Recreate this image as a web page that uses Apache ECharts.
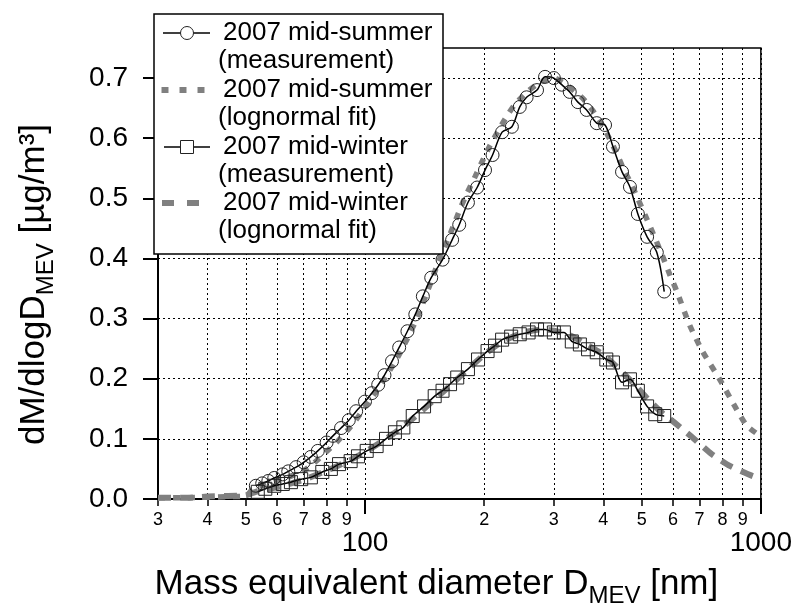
<!DOCTYPE html>
<html><head><meta charset="utf-8">
<script src="https://cdn.jsdelivr.net/npm/echarts@6/dist/echarts.min.js"></script>
<style>html,body{margin:0;padding:0;background:#fff}#c{width:795px;height:613px}</style>
</head><body><div id="c"></div>
<script>
// ---- data ----
const summerMeasD = [53,55,57,59,62,64,67,70,73,76,80,83,87,91,95,100,104,108,112,117,122,128,134,140,147,157,166,173,182,192,201,210,222,235,246,256,272,285,300,314,329,345,363,385,404,423,446,467,489,516,546,570];
const summerMeasY = [0.022,0.026,0.030,0.035,0.041,0.046,0.053,0.061,0.070,0.080,0.094,0.105,0.118,0.131,0.146,0.162,0.176,0.190,0.206,0.229,0.252,0.279,0.307,0.337,0.368,0.398,0.431,0.456,0.493,0.518,0.547,0.572,0.610,0.619,0.652,0.668,0.680,0.702,0.700,0.689,0.677,0.660,0.647,0.625,0.622,0.586,0.544,0.519,0.474,0.436,0.410,0.345];

const summerFitD = [30,35,40,45,50,52,55,60,65,70,75,80,85,90,95,100,107,114,121,128,136,147,153,164,174,180,190,198,207,226,239,258,277,300,324,354,375,395,414,433,449,472,487,510,533,566,588,612,661,713,787,860,921,1000];
const summerFitY = [0.002,0.002,0.003,0.004,0.005,0.016,0.022,0.030,0.038,0.047,0.062,0.079,0.095,0.113,0.132,0.153,0.180,0.208,0.236,0.267,0.304,0.362,0.393,0.440,0.483,0.505,0.537,0.562,0.588,0.632,0.656,0.678,0.693,0.700,0.688,0.667,0.647,0.625,0.600,0.574,0.550,0.522,0.502,0.472,0.443,0.402,0.374,0.347,0.289,0.245,0.199,0.154,0.122,0.104];

const winterMeasD = [53.6,56,59,62,65,69,73,78,82,86,92,96,101,107,113,119,125,132,141,150,157,164,171,182,193,204,213,222,234,246,259,272,285,300,318,333,349,366,385,407,423,446,467,489,516,541,570];
const winterMeasY = [0.012,0.017,0.022,0.025,0.028,0.033,0.036,0.045,0.050,0.058,0.063,0.071,0.080,0.088,0.100,0.111,0.119,0.138,0.154,0.171,0.180,0.191,0.202,0.216,0.232,0.246,0.255,0.265,0.270,0.274,0.277,0.282,0.282,0.277,0.277,0.262,0.257,0.249,0.244,0.232,0.227,0.194,0.199,0.180,0.154,0.141,0.138];

const winterFitD = [30,35,40,45,50,53,60,70,80,90,100,110,120,130,140,150,165,180,200,220,240,260,280,300,330,360,400,440,480,520,570,600,670,750,835,955,1000];
const winterFitY = [0.002,0.002,0.004,0.005,0.006,0.012,0.020,0.032,0.047,0.062,0.078,0.095,0.112,0.130,0.148,0.166,0.190,0.213,0.240,0.260,0.272,0.279,0.282,0.280,0.272,0.258,0.240,0.215,0.190,0.165,0.140,0.129,0.103,0.075,0.055,0.038,0.035];

const minorTickValues = [30,40,50,60,70,80,90,200,300,400,500,600,700,800,900];
const minorTickLabels = ['3','4','5','6','7','8','9','2','3','4','5','6','7','8','9'];
const majorTickValues = [100,1000];
const majorTickLabels = ['100','1000'];
const yTickValues = [0,0.1,0.2,0.3,0.4,0.5,0.6,0.7];
const yTickLabels = ['0.0','0.1','0.2','0.3','0.4','0.5','0.6','0.7'];

const legendNames = [['2007 mid-summer','(measurement)'],['2007 mid-summer','(lognormal fit)'],['2007 mid-winter','(measurement)'],['2007 mid-winter','(lognormal fit)']];

const zip = (a,b) => a.map((v,i)=>[v,b[i]]);
const FONT = 'Arial, "Liberation Sans", sans-serif';
const gridLine = {show:true, lineStyle:{color:'#000', width:1, type:[2,3]}};

const chart = echarts.init(document.getElementById('c'), null, {renderer:'canvas'});

const legendGraphics = [];
legendGraphics.push({type:'rect', shape:{x:154,y:14,width:289,height:240}, style:{fill:'#fff', stroke:'#000', lineWidth:1.5}, z:100});
const rowY = [33,90,147,203];
rowY.forEach((y,i)=>{
  legendGraphics.push({type:'text', x:223, y:y, scaleX:1.04, z:101, style:{text:legendNames[i][0], font:'25px '+FONT, fill:'#000', verticalAlign:'middle'}});
  legendGraphics.push({type:'text', x:218, y:y+28.5, scaleX:1.04, z:101, style:{text:legendNames[i][1], font:'25px '+FONT, fill:'#000', verticalAlign:'middle'}});
});
// sample symbols
legendGraphics.push({type:'line', z:101, shape:{x1:163,y1:33,x2:210,y2:33}, style:{stroke:'#000', lineWidth:1.5}});
legendGraphics.push({type:'circle', z:102, shape:{cx:187,cy:33,r:6.5}, style:{fill:'#fff', stroke:'#222', lineWidth:1}});
[165,183,201].forEach(x=>legendGraphics.push({type:'rect', z:101, shape:{x:x-3.5,y:87,width:7,height:6}, style:{fill:'#808080'}}));
legendGraphics.push({type:'line', z:101, shape:{x1:164,y1:147,x2:210,y2:147}, style:{stroke:'#000', lineWidth:1.5}});
legendGraphics.push({type:'rect', z:102, shape:{x:180.5,y:140.5,width:13,height:13}, style:{fill:'#fff', stroke:'#222', lineWidth:1}});
[[162,174],[187,199]].forEach(([a,b])=>legendGraphics.push({type:'line', z:101, shape:{x1:a,y1:203,x2:b,y2:203}, style:{stroke:'#808080', lineWidth:6}}));

const subRich = {
  main:{fontSize:35, fontFamily:FONT, color:'#000', lineHeight:48, verticalAlign:'middle'},
  sub:{fontSize:24, fontFamily:FONT, color:'#000', lineHeight:24, verticalAlign:'bottom'}
};

const option = {
  animation:false,
  backgroundColor:'#fff',
  grid:{left:158, right:34, top:48, bottom:113, show:true, borderColor:'#000', borderWidth:1.5, backgroundColor:'transparent'},
  xAxis:[{
    type:'log', logBase:10, min:30, max:1000, position:'bottom',
    axisLine:{show:true, lineStyle:{color:'#000', width:2}},
    axisTick:{show:true, customValues:minorTickValues, length:7, inside:false, lineStyle:{color:'#000', width:1.5}},
    axisLabel:{show:true, customValues:minorTickValues, margin:12, fontSize:18, fontFamily:FONT, color:'#000',
      formatter:v=>{const i=minorTickValues.findIndex(t=>Math.abs(t-v)<1e-6*t); return i>=0?minorTickLabels[i]:'';}},
    splitLine:gridLine,
    name:'{main|Mass equivalent diameter D}{sub|MEV}{main| [nm]}',
    nameLocation:'middle', nameGap:61,
    nameTextStyle:{rich:subRich, padding:[0,46,0,0]}
  },{
    type:'log', logBase:10, min:30, max:1000, position:'bottom',
    axisLine:{show:false},
    axisTick:{show:true, customValues:majorTickValues, length:15, inside:false, lineStyle:{color:'#000', width:2}},
    axisLabel:{show:true, customValues:majorTickValues, margin:30, fontSize:28, fontFamily:FONT, color:'#000',
      formatter:v=>{const i=majorTickValues.findIndex(t=>Math.abs(t-v)<1e-6*t); return i>=0?majorTickLabels[i]:'';}},
    splitLine:gridLine
  }],
  yAxis:{
    type:'value', min:0, max:0.75,
    axisLine:{show:true, lineStyle:{color:'#000', width:2}},
    axisTick:{show:true, customValues:yTickValues, length:15, inside:false, lineStyle:{color:'#000', width:2}},
    axisLabel:{show:true, customValues:yTickValues, margin:30, fontSize:28, fontFamily:FONT, color:'#000',
      formatter:v=>{const i=yTickValues.findIndex(t=>Math.abs(t-v)<1e-9); return i>=0?yTickLabels[i]:'';}},
    splitLine:gridLine,
    name:'{main|dM/dlogD}{sub|MEV}{main| [µg/m³]}',
    nameLocation:'middle', nameGap:100, nameRotate:90,
    nameTextStyle:{rich:subRich, padding:[0,22,0,0]}
  },
  series:[
    {name:'summer fit', type:'line', xAxisIndex:0, data:zip(summerFitD, summerFitY), showSymbol:false, smooth:0.2, z:2,
      lineStyle:{color:'#808080', width:5.5, type:[7,8], cap:'butt'}},
    {name:'winter fit', type:'line', xAxisIndex:0, data:zip(winterFitD, winterFitY), showSymbol:false, smooth:0.2, z:2,
      lineStyle:{color:'#808080', width:6, type:[13,9], cap:'butt'}},
    {name:'summer meas', type:'line', xAxisIndex:0, data:zip(summerMeasD, summerMeasY), symbol:'circle', symbolSize:13, smooth:0.3, z:3,
      itemStyle:{color:'rgba(255,255,255,0)', borderColor:'#222', borderWidth:1},
      lineStyle:{color:'#000', width:1.5}},
    {name:'winter meas', type:'line', xAxisIndex:0, data:zip(winterMeasD, winterMeasY), symbol:'rect', symbolSize:13, smooth:0.3, z:3,
      itemStyle:{color:'rgba(255,255,255,0)', borderColor:'#222', borderWidth:1},
      lineStyle:{color:'#000', width:1.5}}
  ],
  graphic:legendGraphics
};
chart.setOption(option);
</script></body></html>
